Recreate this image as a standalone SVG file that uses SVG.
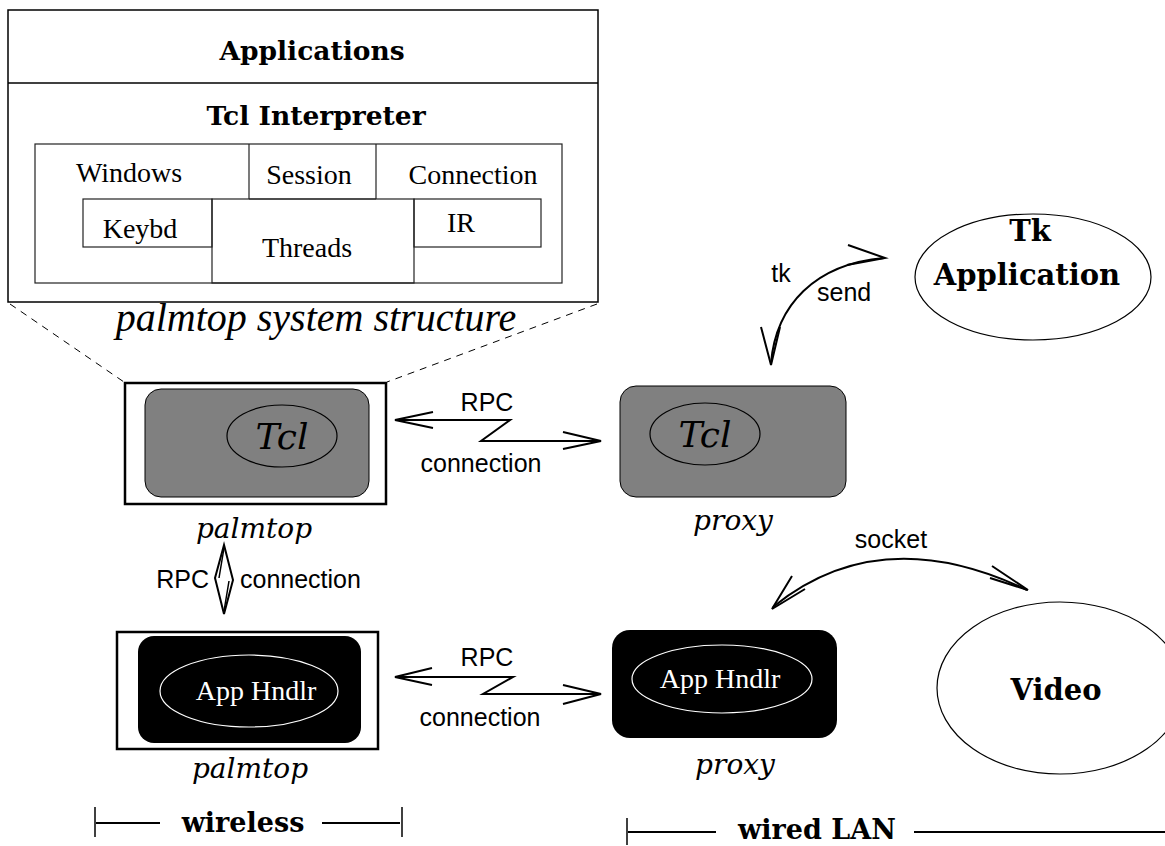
<svg xmlns="http://www.w3.org/2000/svg" width="1165" height="846" viewBox="0 0 1165 846">
<style>
.box{fill:#fff;stroke:#000;stroke-width:1.5}
.thin{fill:none;stroke:#222;stroke-width:1.2}
.bold{font-family:"DejaVu Serif",serif;font-weight:bold;fill:#000}
.rom{font-family:"Liberation Serif",serif;font-size:28px;fill:#000}
.ital{font-family:"DejaVu Serif",serif;font-style:italic;fill:#000}
.sans{font-family:"Liberation Sans",Arial,sans-serif;font-size:25px;fill:#000}
.ln{fill:none;stroke:#000;stroke-width:2;stroke-linejoin:miter}
.dash{fill:none;stroke:#000;stroke-width:1;stroke-dasharray:7 6}
</style>
<rect width="1165" height="846" fill="#fff"/>

<g id="structure">
  <rect class="box" x="8" y="10" width="590" height="292"/>
  <line x1="8" y1="83" x2="598" y2="83" stroke="#000" stroke-width="1.5"/>
  <text class="bold" x="312" y="60" font-size="26.5" text-anchor="middle">Applications</text>
  <text class="bold" x="316" y="125" font-size="26.5" text-anchor="middle">Tcl Interpreter</text>
  <rect class="thin" x="35" y="144" width="527" height="139"/>
  <line class="thin" x1="249" y1="144" x2="249" y2="199"/>
  <line class="thin" x1="376" y1="144" x2="376" y2="199"/>
  <line class="thin" x1="249" y1="199" x2="376" y2="199"/>
  <rect class="thin" x="83" y="199" width="129" height="48"/>
  <rect class="thin" x="212" y="199" width="202" height="84"/>
  <rect class="thin" x="414" y="199" width="127" height="48"/>
  <text class="rom" x="129" y="182" text-anchor="middle">Windows</text>
  <text class="rom" x="309" y="184" text-anchor="middle">Session</text>
  <text class="rom" x="473" y="184" text-anchor="middle">Connection</text>
  <text class="rom" x="140" y="238" text-anchor="middle">Keybd</text>
  <text class="rom" x="307" y="257" text-anchor="middle">Threads</text>
  <text class="rom" x="461" y="232" text-anchor="middle">IR</text>
  <text x="316" y="331" font-family="Liberation Serif,serif" font-style="italic" font-size="40" text-anchor="middle">palmtop system structure</text>
  <line class="dash" x1="10" y1="304" x2="124" y2="382"/>
  <line class="dash" x1="597" y1="304" x2="387" y2="382"/>
</g>

<g id="palmtop-tcl">
  <rect x="125" y="383" width="261" height="121" fill="#fff" stroke="#000" stroke-width="2.5"/>
  <rect x="145" y="389" width="224" height="108" rx="16" fill="#808080" stroke="#000" stroke-width="1"/>
  <ellipse cx="282" cy="436" rx="55" ry="31" fill="none" stroke="#000" stroke-width="1.2"/>
  <text class="ital" x="282" y="449" font-size="36" text-anchor="middle">Tcl</text>
  <text class="ital" x="254" y="538" font-size="28" text-anchor="middle">palmtop</text>
</g>

<g id="proxy-tcl">
  <rect x="620" y="386" width="226" height="111" rx="16" fill="#808080" stroke="#000" stroke-width="1"/>
  <ellipse cx="705" cy="434" rx="55" ry="31" fill="none" stroke="#000" stroke-width="1.2"/>
  <text class="ital" x="705" y="447" font-size="36" text-anchor="middle">Tcl</text>
  <text class="ital" x="733" y="530" font-size="28" text-anchor="middle">proxy</text>
</g>

<g id="tk-app">
  <ellipse cx="1033" cy="277" rx="118" ry="63" fill="#fff" stroke="#000" stroke-width="1.2"/>
  <text class="bold" x="1030" y="241" font-size="29" text-anchor="middle">Tk</text>
  <text class="bold" x="1027" y="285" font-size="29" text-anchor="middle">Application</text>
</g>

<g id="palmtop-app">
  <rect x="117" y="632" width="261" height="117" fill="#fff" stroke="#000" stroke-width="2.5"/>
  <rect x="138" y="636" width="223" height="107" rx="16" fill="#000"/>
  <ellipse cx="249" cy="691" rx="89" ry="36" fill="none" stroke="#fff" stroke-width="1.2"/>
  <text class="rom" x="256" y="700" text-anchor="middle" style="fill:#fff">App Hndlr</text>
  <text class="ital" x="250" y="778" font-size="28" text-anchor="middle">palmtop</text>
</g>

<g id="proxy-app">
  <rect x="612" y="630" width="225" height="108" rx="18" fill="#000"/>
  <ellipse cx="722" cy="679" rx="90" ry="34" fill="none" stroke="#fff" stroke-width="1.2"/>
  <text class="rom" x="720" y="688" text-anchor="middle" style="fill:#fff">App Hndlr</text>
  <text class="ital" x="735" y="774" font-size="28" text-anchor="middle">proxy</text>
</g>

<g id="video">
  <ellipse cx="1060" cy="688" rx="123" ry="86" fill="#fff" stroke="#000" stroke-width="1.2"/>
  <text class="bold" x="1056" y="700" font-size="29" text-anchor="middle">Video</text>
</g>

<g id="connectors">
  <polyline class="ln" points="433,412 395,420 433,428"/>
  <polyline class="ln" points="396,420 510,420 481,441 601,441"/>
  <polyline class="ln" points="563,432 601,441 563,449"/>
  <text class="sans" x="487" y="411" text-anchor="middle">RPC</text>
  <text class="sans" x="481" y="472" text-anchor="middle">connection</text>
  <polyline class="ln" points="432,668 395,677 432,685"/>
  <polyline class="ln" points="396,677 513,677 483,694 601,694"/>
  <polyline class="ln" points="563,685 601,694 563,704"/>
  <text class="sans" x="487" y="666" text-anchor="middle">RPC</text>
  <text class="sans" x="480" y="726" text-anchor="middle">connection</text>
  <path class="ln" d="M224,545 L215,578 L224,614 L233,580 Z"/>
  <path d="M224,548 L219,578 M229,581 L224,611" fill="none" stroke="#000" stroke-width="1.5"/>
  <text class="sans" x="209" y="588" text-anchor="end">RPC</text>
  <text class="sans" x="240" y="588">connection</text>
  <path class="ln" d="M771,363 C776,305 815,264 884,258"/>
  <polyline class="ln" points="761,327 771,365 780,327"/>
  <polyline class="ln" points="848,245 885,258 847,265"/>
  <text class="sans" x="781" y="282" text-anchor="middle">tk</text>
  <text class="sans" x="817" y="301">send</text>
  <path class="ln" d="M773,607 Q880,520 1027,590"/>
  <polyline class="ln" points="792,576 772,609 805,589"/>
  <polyline class="ln" points="992,566 1028,590 990,578"/>
  <text class="sans" x="891" y="548" text-anchor="middle">socket</text>
</g>

<g id="legend">
  <line x1="95" y1="807" x2="95" y2="837" stroke="#000" stroke-width="1.5"/>
  <line x1="96" y1="823" x2="160" y2="823" stroke="#000" stroke-width="2"/>
  <text class="bold" x="243" y="832" font-size="27" text-anchor="middle">wireless</text>
  <line x1="322" y1="823" x2="400" y2="823" stroke="#000" stroke-width="2"/>
  <line x1="402" y1="807" x2="402" y2="837" stroke="#000" stroke-width="1.5"/>
  <line x1="627" y1="818" x2="627" y2="845" stroke="#000" stroke-width="1.5"/>
  <line x1="628" y1="832" x2="716" y2="832" stroke="#000" stroke-width="2"/>
  <text class="bold" x="817" y="839" font-size="27" text-anchor="middle">wired LAN</text>
  <line x1="914" y1="832" x2="1165" y2="832" stroke="#000" stroke-width="2"/>
</g>
</svg>
